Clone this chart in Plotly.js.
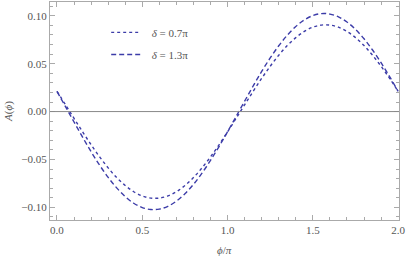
<!DOCTYPE html>
<html><head><meta charset="utf-8">
<script src="https://cdn.plot.ly/plotly-3.0.1.min.js"></script>
<style>html,body{margin:0;padding:0;background:#fff}#c{width:407px;height:259px}</style>
</head><body><div id="c"></div>
<script>
const phi = [0,0.05,0.1,0.15,0.2,0.25,0.3,0.35,0.4,0.45,0.5,0.55,0.6,0.65,0.7,0.75,0.8,0.85,0.9,0.95,1.0,
  1.05,1.1,1.15,1.2,1.25,1.3,1.35,1.4,1.45,1.5,1.55,1.6,1.65,1.7,1.75,1.8,1.85,1.9,1.95,2.0];
const aDelta07 = [0.0211,0.0071,-0.0071,-0.0211,-0.0347,-0.0473,-0.0588,-0.0689,-0.0772,-0.0837,-0.0881,-0.0903,-0.0903,-0.0881,-0.0837,-0.0772,-0.0689,-0.0588,-0.0473,-0.0347,-0.0211,
  -0.0071,0.0071,0.0211,0.0347,0.0473,0.0588,0.0689,0.0772,0.0837,0.0881,0.0903,0.0903,0.0881,0.0837,0.0772,0.0689,0.0588,0.0473,0.0347,0.0211];
const aDelta13 = [0.0211,0.0051,-0.0109,-0.0267,-0.0419,-0.0560,-0.0687,-0.0797,-0.0888,-0.0957,-0.1002,-0.1023,-0.1018,-0.0989,-0.0935,-0.0858,-0.0760,-0.0643,-0.0510,-0.0365,-0.0211,
  -0.0051,0.0109,0.0267,0.0419,0.0560,0.0687,0.0797,0.0888,0.0957,0.1002,0.1023,0.1018,0.0989,0.0935,0.0858,0.0760,0.0643,0.0510,0.0365,0.0211];
const seriesNames = ['\u00a0\u00a0<i>δ</i> = 0.7π','\u00a0\u00a0<i>δ</i> = 1.3π'];
const xTicks = [0,0.5,1,1.5,2];
const xTickText = ['0.0','0.5','1.0','1.5','2.0'];
const yTicks = [-0.10,-0.05,0,0.05,0.10];
const yTickText = ['−0.10','−0.05','0.00','0.05','0.10'];

const col = '#3c3ca8';
const traces = [
  {x: phi, y: aDelta07, mode:'lines', name: seriesNames[0], legend:'legend', line:{color:col, width:1.4, dash:'dot', shape:'spline'}},
  {x: phi, y: aDelta13, mode:'lines', name: seriesNames[1], legend:'legend2', line:{color:col, width:1.4, dash:'5px,3px', shape:'spline'}}
];
const fnt = {family:'Liberation Serif, Times New Roman, serif', size:11, color:'#555'};
const axCommon = {
  showgrid:false, zeroline:false, showline:true, mirror:'allticks', linecolor:'#aaa', linewidth:1,
  ticks:'inside', ticklen:5, tickcolor:'#aaa', tickwidth:1, tickfont:fnt
};
const legCommon = {x:0.161, xanchor:'left', yanchor:'top', bgcolor:'rgba(0,0,0,0)', font:fnt, itemwidth:30};
const layout = {
  width:407, height:259, margin:{l:50, r:8, t:2, b:39},
  paper_bgcolor:'#fff', plot_bgcolor:'#fff', showlegend:true,
  font: fnt,
  xaxis: Object.assign({}, axCommon, {range:[-0.041,2.005], tickvals:xTicks, ticktext:xTickText,
    minor:{dtick:0.1, tick0:0, ticks:'inside', ticklen:3, tickcolor:'#aaa'}}),
  yaxis: Object.assign({}, axCommon, {range:[-0.1132,0.1144], tickvals:yTicks, ticktext:yTickText,
    minor:{dtick:0.01, tick0:0, ticks:'inside', ticklen:3, tickcolor:'#aaa'},
    title:{text:'<i>A</i>(<i>ϕ</i>)', font:fnt, standoff:6}}),
  annotations:[{text:'<i>ϕ</i>/<i>π</i>', xref:'paper', yref:'paper', x:0.5, y:-0.138, xanchor:'center', yanchor:'middle', showarrow:false, font:fnt}],
  shapes:[{type:'line', xref:'paper', x0:0, x1:1, yref:'y', y0:0, y1:0, line:{color:'#888', width:1}}],
  legend: Object.assign({}, legCommon, {y:0.927}),
  legend2: Object.assign({}, legCommon, {y:0.826})
};
Plotly.newPlot('c', traces, layout, {displayModeBar:false, staticPlot:true});
</script></body></html>
